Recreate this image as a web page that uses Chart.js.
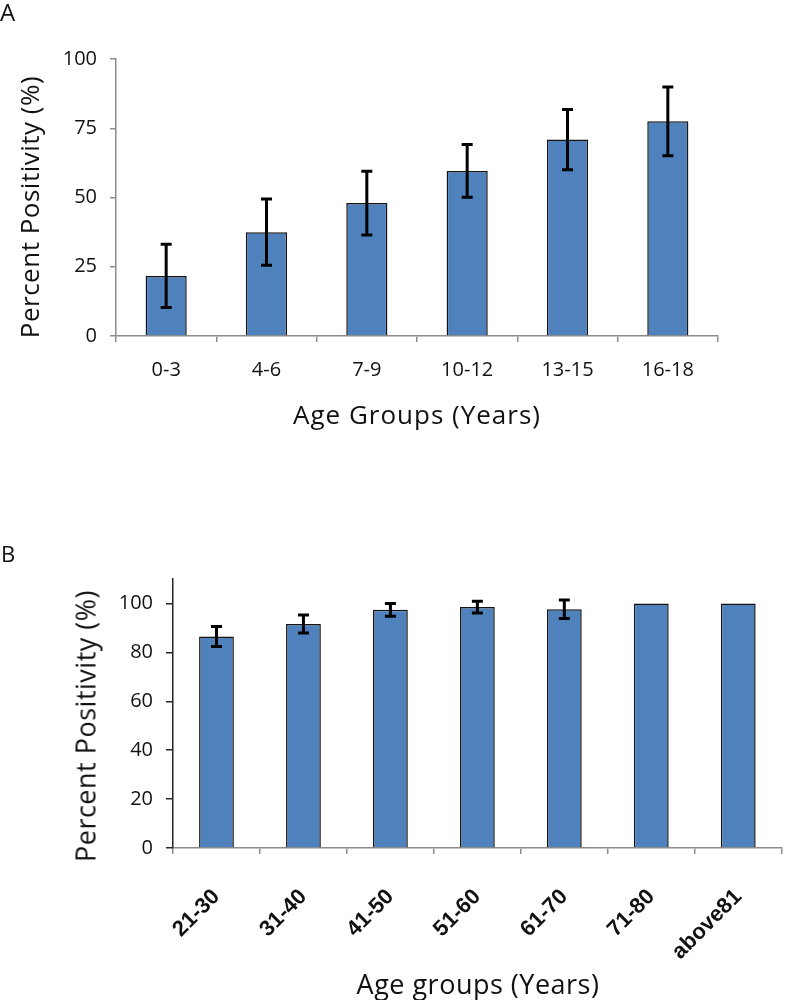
<!DOCTYPE html>
<html>
<head>
<meta charset="utf-8">
<script src="https://cdn.jsdelivr.net/npm/chart.js@4.4.0/dist/chart.umd.min.js"></script>
<style>
  body { margin:0; background:#fff; width:787px; height:1000px; position:relative; overflow:hidden; font-family:"Open Sans", sans-serif; color:#000; }
  .box { position:absolute; left:0; width:787px; }
  .lbl { position:absolute; white-space:nowrap; line-height:1; color:#111; }
  .rot { transform: translate(-50%,-50%) rotate(-90deg); }
  .ctr { transform: translate(-50%,-50%); }
</style>
</head>
<body>
<div class="box" style="top:0;height:450px"><canvas id="chartA"></canvas></div>
<div class="box" style="top:530px;height:470px"><canvas id="chartB"></canvas></div>

<div class="lbl" style="left:0;top:0;font-size:24px">A</div>
<div class="lbl rot" style="left:29px;top:207px;font-size:26px;letter-spacing:0.5px">Percent Positivity (%)</div>
<div class="lbl ctr" style="left:417px;top:414px;font-size:26px;letter-spacing:1px">Age Groups (Years)</div>

<div class="lbl" style="left:1px;top:542px;font-size:22px">B</div>
<div class="lbl rot" style="left:85px;top:726px;font-size:27px;letter-spacing:0.5px">Percent Positivity (%)</div>
<div class="lbl ctr" style="left:478px;top:983px;font-size:27px;letter-spacing:0.5px">Age groups (Years)</div>

<script>
// panel A - children
const ageGroupsA = ['0-3', '4-6', '7-9', '10-12', '13-15', '16-18'];
const positivityA = [21.7, 37.5, 48.0, 59.6, 70.9, 77.5];
const errorA = [11.4, 12.0, 11.5, 9.5, 10.9, 12.4];
const yTicksA = [0, 25, 50, 75, 100];

// panel B - adults
const ageGroupsB = ['21-30', '31-40', '41-50', '51-60', '61-70', '71-80', 'above81'];
const positivityB = [86.5, 91.6, 97.4, 98.5, 97.6, 100, 100];
const errorB = [4.1, 3.7, 2.6, 2.4, 3.8, 0, 0];
const yTicksB = [0, 20, 40, 60, 80, 100];

const barBlue = '#4F81BD';

// draws the black error bars on top of each bar
const errorBars = {
	id: 'errorBars',
	afterDatasetsDraw(chart) {
		const ctx = chart.ctx;
		const yScale = chart.scales.y;
		chart.data.datasets.forEach((ds, di) => {
			if (!ds.errors) return;
			const meta = chart.getDatasetMeta(di);
			meta.data.forEach((bar, i) => {
				let e = ds.errors[i];
				if (!e) return;
				let v = ds.data[i];
				let top = yScale.getPixelForValue(v + e);
				let bot = yScale.getPixelForValue(v - e);
				let cap = 5.5;
				ctx.save();
				ctx.strokeStyle = '#000';
				ctx.lineWidth = 3;
				ctx.beginPath();
				ctx.moveTo(bar.x, top);
				ctx.lineTo(bar.x, bot);
				ctx.moveTo(bar.x - cap, top);
				ctx.lineTo(bar.x + cap, top);
				ctx.moveTo(bar.x - cap, bot);
				ctx.lineTo(bar.x + cap, bot);
				ctx.stroke();
				ctx.restore();
			});
		});
	}
};

function makeChart(id, labels, values, errors, yTicks, opt) {
	return new Chart(document.getElementById(id), {
		type: 'bar',
		data: {
			labels: labels,
			datasets: [{
				data: values,
				errors: errors,
				backgroundColor: barBlue,
				borderColor: '#141414',
				borderWidth: 1.5,
				barPercentage: opt.barPct,
				categoryPercentage: 1
			}]
		},
		options: {
			responsive: true,
			maintainAspectRatio: false,
			animation: false,
			layout: { padding: opt.padding },
			plugins: { legend: { display: false }, tooltip: { enabled: false } },
			scales: {
				x: {
					grid: { display: true, drawOnChartArea: false, offset: true, tickLength: 6, color: '#8c8c8c', lineWidth: 1.5 },
					border: { color: '#8c8c8c', width: 1.5 },
					ticks: opt.xTicks,
					afterFit: (s) => { s.height = opt.xHeight; }
				},
				y: {
					min: 0,
					max: opt.yMax,
					grid: { drawOnChartArea: false, tickLength: opt.yTickLen, color: opt.yColor, lineWidth: 1.5 },
					border: { color: opt.yColor, width: 1.5 },
					ticks: { color: '#111', padding: opt.yPad, font: { family: 'Open Sans', size: 20 } },
					afterBuildTicks: (axis) => { axis.ticks = yTicks.map(v => ({ value: v })); },
					afterFit: (s) => { s.width = opt.yWidth; }
				}
			}
		},
		plugins: [errorBars]
	});
}

makeChart('chartA', ageGroupsA, positivityA, errorA, yTicksA, {
	barPct: 0.41,
	padding: { top: 59, right: 69, left: 0, bottom: 0 },
	xHeight: 114,
	yWidth: 116,
	yMax: 100,
	yTickLen: 6,
	yPad: 13,
	yColor: '#8c8c8c',
	xTicks: { color: '#111', padding: 16, maxRotation: 0, font: { family: 'Open Sans', size: 20 } }
});

makeChart('chartB', ageGroupsB, positivityB, errorB, yTicksB, {
	barPct: 0.40,
	padding: { top: 49, right: 1, left: 0, bottom: 0 },
	xHeight: 152,
	yWidth: 173,
	yMax: 110,
	yTickLen: 7,
	yPad: 13,
	yColor: '#262626',
	xTicks: { color: '#111', padding: 30, minRotation: 45, maxRotation: 45, autoSkip: false, labelOffset: 0, font: { family: 'Liberation Sans', size: 22, weight: 'bold' } }
});
</script>
</body>
</html>
